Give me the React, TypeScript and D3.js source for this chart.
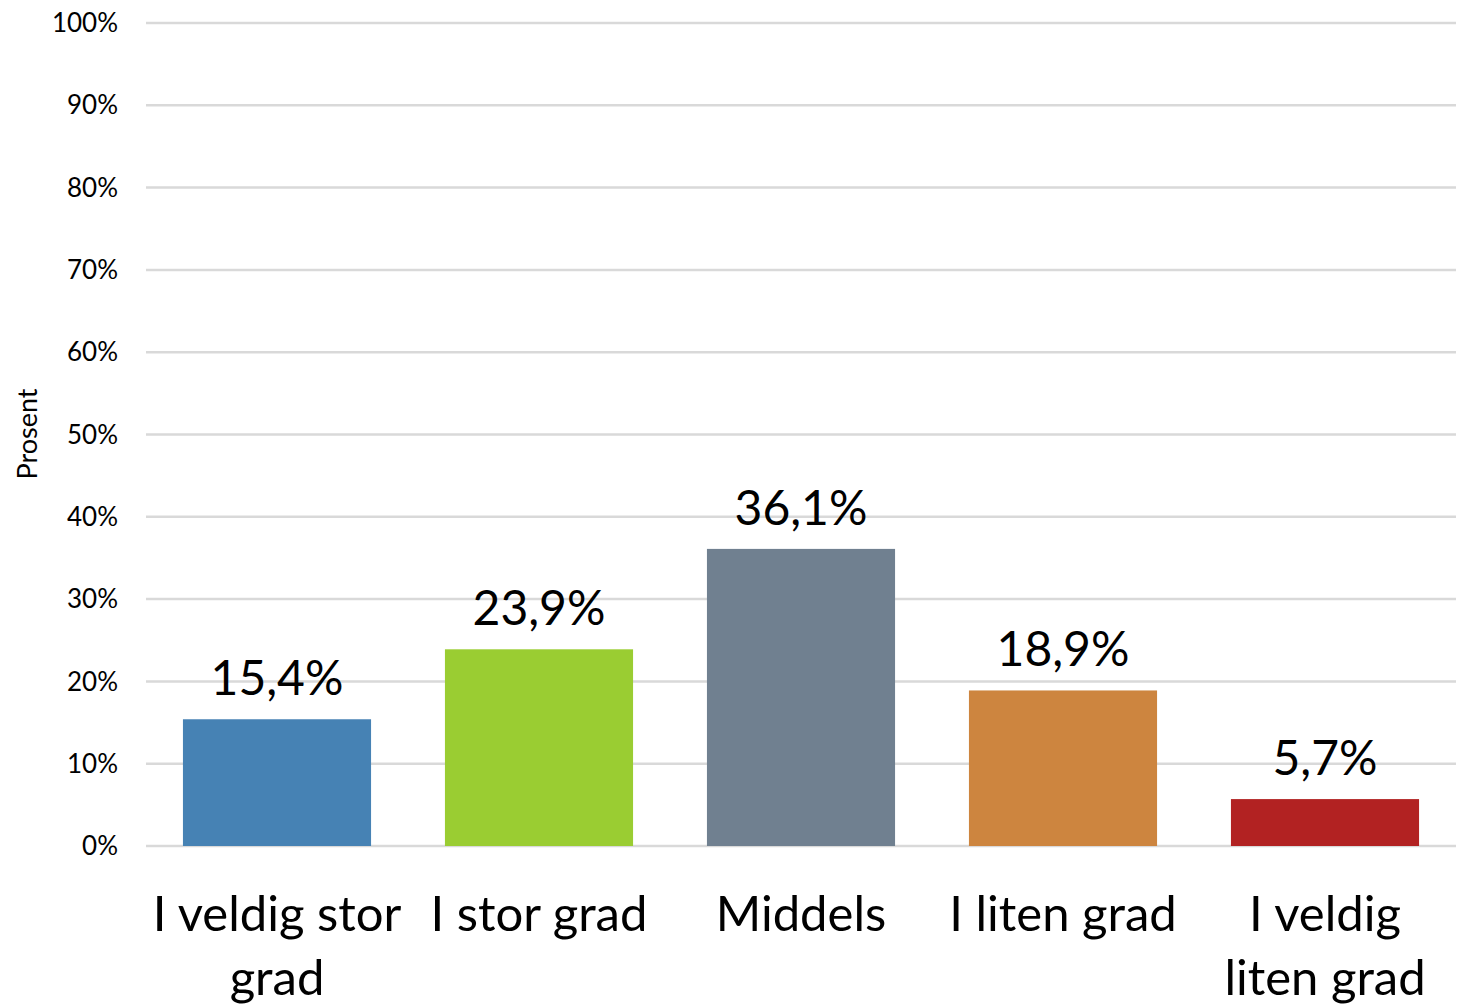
import React, { useEffect } from "react";
import * as d3 from "d3";

const categories: string[][] = [
  ["I veldig stor", "grad"],
  ["I stor grad"],
  ["Middels"],
  ["I liten grad"],
  ["I veldig", "liten grad"],
];
const values: number[] = [15.4, 23.9, 36.1, 18.9, 5.7];
const valueLabels: string[] = ["15,4%", "23,9%", "36,1%", "18,9%", "5,7%"];
const colors: string[] = ["#4682B4", "#9ACD32", "#708090", "#CD853F", "#B22222"];
const yTicks: number[] = [0, 10, 20, 30, 40, 50, 60, 70, 80, 90, 100];
const yTitle = "Prosent";

const W = 1457;
const H = 1007;
const FONT = "Lato, 'Open Sans', sans-serif";

export default function App() {
  useEffect(() => {
    document.body.style.margin = "0";
  }, []);

  const x = d3
    .scaleBand<number>()
    .domain(d3.range(values.length))
    .range([146, 1456])
    .paddingInner(0.282)
    .paddingOuter(0.141);
  const y = d3.scaleLinear().domain([0, 100]).range([846, 23]);

  return (
    <svg width={W} height={H} style={{ display: "block" }} fontFamily={FONT}>
      <rect width={W} height={H} fill="#fff" />
      {yTicks.map((t) => (
        <g key={t}>
          <line x1={146} x2={1456} y1={y(t)} y2={y(t)} stroke="#d9d9d9" strokeWidth={2.5} />
          <text x={118} y={y(t)} dy="0.35em" textAnchor="end" fontSize={26} fill="#000">
            {t}%
          </text>
        </g>
      ))}
      <text
        transform={`translate(37,434) rotate(-90)`}
        textAnchor="middle"
        fontSize={27}
        fill="#000"
      >
        {yTitle}
      </text>
      {values.map((v, i) => (
        <g key={i}>
          <rect
            x={x(i)!}
            y={y(v)}
            width={x.bandwidth()}
            height={y(0) - y(v)}
            fill={colors[i]}
          />
          <text
            x={x(i)! + x.bandwidth() / 2}
            y={y(v) - 24}
            textAnchor="middle"
            fontSize={48}
            fill="#000"
          >
            {valueLabels[i]}
          </text>
          {categories[i].map((line, j) => (
            <text
              key={j}
              x={x(i)! + x.bandwidth() / 2}
              y={931 + j * 64}
              textAnchor="middle"
              fontSize={49}
              fill="#000"
            >
              {line}
            </text>
          ))}
        </g>
      ))}
    </svg>
  );
}
